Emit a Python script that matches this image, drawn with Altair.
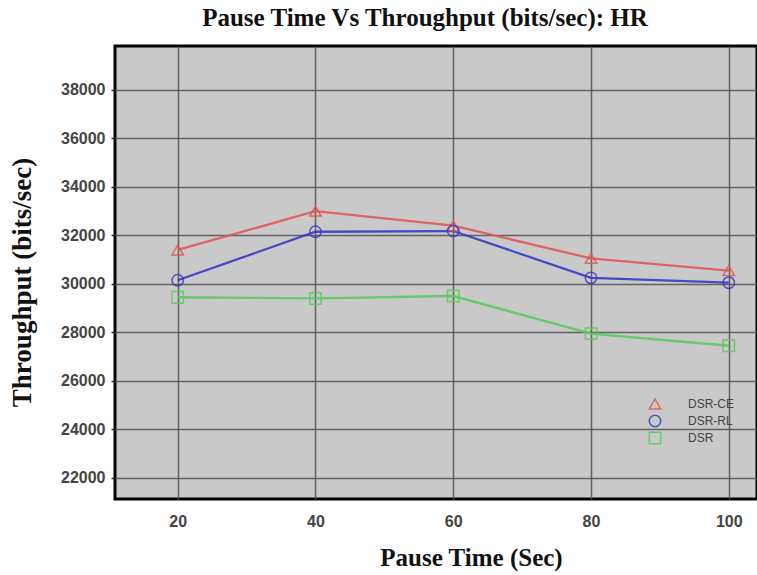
import altair as alt
import pandas as pd

pause_time = [20, 40, 60, 80, 100]
series_names = ["DSR-CE", "DSR-RL", "DSR"]
dsr_ce = [31400, 33000, 32400, 31050, 30550]
dsr_rl = [30150, 32150, 32180, 30250, 30050]
dsr = [29450, 29400, 29500, 27950, 27450]
series_colors = ["#e05858", "#3a3ac4", "#5cc95c"]
series_shapes = ["triangle-up", "circle", "square"]
y_ticks = [22000, 24000, 26000, 28000, 30000, 32000, 34000, 36000, 38000]

rows = []
for name, vals in zip(series_names, [dsr_ce, dsr_rl, dsr]):
    for x, v in zip(pause_time, vals):
        rows.append({"Pause Time": x, "Throughput": v, "Series": name})
df = pd.DataFrame(rows)

legend_df = pd.DataFrame({"Series": series_names, "idx": list(range(len(series_names)))})

xs = alt.Scale(domain=[10.9, 104.1], nice=False, zero=False)
ys = alt.Scale(domain=[21130, 39810], nice=False, zero=False)
cs = alt.Scale(domain=series_names, range=series_colors)
ss = alt.Scale(domain=series_names, range=series_shapes)

x_enc = alt.X("Pause Time:Q", scale=xs,
              axis=alt.Axis(values=pause_time, title="Pause Time (Sec)",
                            titleX=356, titleY=66, titleBaseline="alphabetic",
                            titleAnchor="middle", titleAlign="center",
                            titleFontSize=25))
y_enc = alt.Y("Throughput:Q", scale=ys,
              axis=alt.Axis(values=y_ticks, format="d", title="Throughput (bits/sec)",
                            titleX=-93, titleY=236, titleAngle=-90,
                            titleBaseline="middle", titleAlign="center",
                            titleFontSize=27))

lines = alt.Chart(df).mark_line(strokeWidth=2.3, opacity=0.9).encode(
    x=x_enc, y=y_enc,
    color=alt.Color("Series:N", scale=cs, legend=None),
    detail="Series:N",
)
points = alt.Chart(df).mark_point(filled=False, size=130, strokeWidth=1.5, opacity=0.85).encode(
    x=x_enc, y=y_enc,
    color=alt.Color("Series:N", scale=cs, legend=None),
    shape=alt.Shape("Series:N", scale=ss, legend=None),
)

legend_base = alt.Chart(legend_df).transform_calculate(
    ly="358 + 17 * datum.idx"
)
legend_pts = legend_base.mark_point(filled=False, size=130, strokeWidth=1.5, opacity=0.85).encode(
    x=alt.value(540),
    y=alt.Y("ly:Q", scale=None),
    color=alt.Color("Series:N", scale=cs, legend=None),
    shape=alt.Shape("Series:N", scale=ss, legend=None),
)
legend_txt = legend_base.mark_text(align="left", baseline="middle", font="Liberation Sans",
                                   fontSize=12, color="#444").encode(
    x=alt.value(573),
    y=alt.Y("ly:Q", scale=None),
    text="Series:N",
)

chart = alt.layer(lines, points, legend_pts, legend_txt).properties(
    width=642, height=453,
    autosize=alt.AutoSizeParams(type="none"),
    padding={"left": 115, "top": 46, "right": 0, "bottom": 76},
    title=alt.TitleParams("Pause Time Vs Throughput (bits/sec): HR",
                          font="Liberation Serif", fontSize=25, fontWeight="bold",
                          color="#111", anchor="middle", dx=-11, dy=24, offset=14,
                          baseline="bottom"),
).configure_view(
    fill="#c9c9c9", stroke="black", strokeWidth=3
).configure_axis(
    grid=True, gridColor="#505050", gridWidth=1.5, gridOpacity=0.85,
    domain=False, ticks=True, tickColor="#222", tickSize=4, tickWidth=1.5,
    labelFont="Liberation Sans", labelFontSize=16, labelFontWeight="bold",
    labelColor="#444", labelPadding=6,
    titleFont="Liberation Serif", titleFontSize=24, titleFontWeight="bold",
    titleColor="#111",
).configure_axisX(
    ticks=False, labelPadding=14
)

chart.save("out.html", embed_options={"renderer": "svg", "actions": False})
